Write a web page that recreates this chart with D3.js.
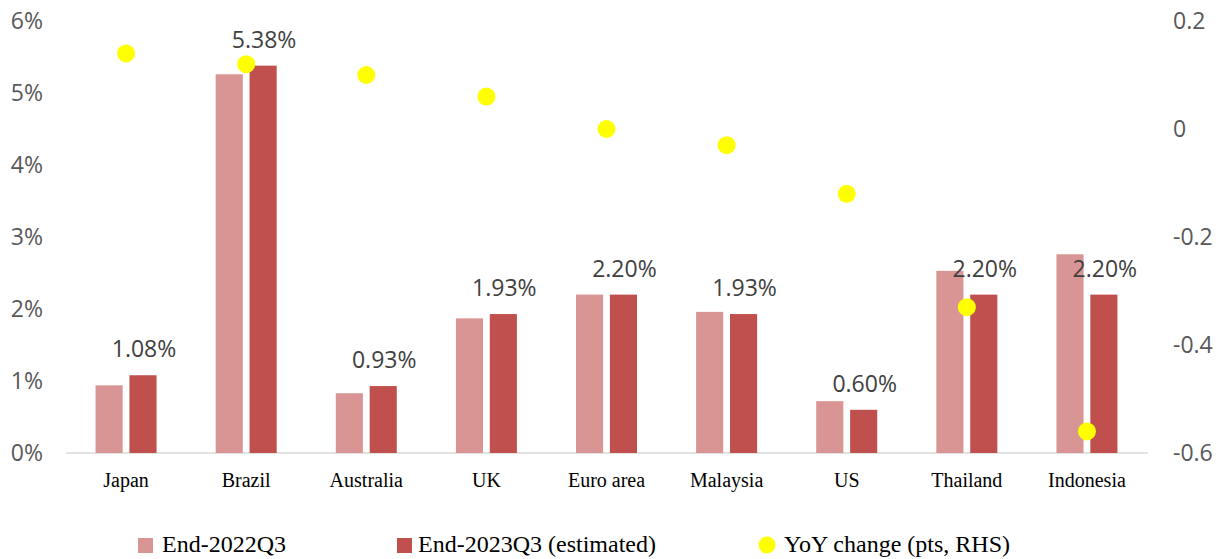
<!DOCTYPE html>
<html>
<head>
<meta charset="utf-8">
<script src="https://cdn.jsdelivr.net/npm/d3@7/dist/d3.min.js"></script>
<style>
  html, body { margin: 0; padding: 0; background: #ffffff; }
  svg { display: block; }
</style>
</head>
<body>
<svg id="chart" width="1224" height="559"></svg>
<script>
// Policy-style rate levels by economy, two snapshots plus year-on-year change
const categories = ["Japan", "Brazil", "Australia", "UK", "Euro area", "Malaysia", "US", "Thailand", "Indonesia"];
const end2022Q3 = [0.94, 5.26, 0.83, 1.87, 2.20, 1.96, 0.72, 2.53, 2.76];
const end2023Q3 = [1.08, 5.38, 0.93, 1.93, 2.20, 1.93, 0.60, 2.20, 2.20];
const yoyChange = [0.14, 0.12, 0.10, 0.06, 0.00, -0.03, -0.12, -0.33, -0.56];
const leftTicks = [0, 1, 2, 3, 4, 5, 6];
const rightTicks = [0.2, 0, -0.2, -0.4, -0.6];
const seriesNames = ["End-2022Q3", "End-2023Q3 (estimated)", "YoY change (pts, RHS)"];

const colors = { light: "#D99594", dark: "#C0504D", dot: "#FFFF00" };

const svg = d3.select("#chart");

const x0 = d3.scaleBand().domain(categories).range([66, 1147]).padding(0);
const bw = x0.bandwidth();
const x1 = d3.scaleBand().domain(["a", "b"])
  .range([bw / 2 - 30.5, bw / 2 + 30.5]).paddingInner(0.2).paddingOuter(0);

const yL = d3.scaleLinear().domain([0, 6]).range([453, 21]);
const yR = d3.scaleLinear().domain([-0.6, 0.2]).range([453, 21]);

// Left axis (percent)
const gL = svg.append("g").attr("transform", "translate(43,0)")
  .call(d3.axisLeft(yL).tickValues(leftTicks).tickFormat(d => d + "%").tickSize(0).tickPadding(0));
gL.select(".domain").remove();
gL.selectAll("text").attr("font-family", "'Open Sans', sans-serif").attr("font-size", 23).attr("fill", "#595959");

// Right axis (points)
const gR = svg.append("g").attr("transform", "translate(1173,0)")
  .call(d3.axisRight(yR).tickValues(rightTicks).tickFormat(d => d === 0 ? "0" : String(d)).tickSize(0).tickPadding(0));
gR.select(".domain").remove();
gR.selectAll("text").attr("font-family", "'Open Sans', sans-serif").attr("font-size", 23).attr("fill", "#595959");

// Category axis
const gX = svg.append("g").attr("transform", "translate(0,453)")
  .call(d3.axisBottom(x0).tickSize(0).tickPadding(20));
gX.select(".domain").remove();
gX.selectAll("text").attr("font-family", "'Liberation Serif', 'Times New Roman', serif").attr("font-size", 20).attr("fill", "#000");

// Baseline
svg.append("line")
  .attr("x1", 66).attr("x2", 1148)
  .attr("y1", yL(0)).attr("y2", yL(0))
  .attr("stroke", "#D9D9D9").attr("stroke-width", 1.5);

// Bars
const groups = svg.append("g").selectAll("g")
  .data(categories)
  .join("g")
  .attr("transform", d => `translate(${x0(d)},0)`);

groups.append("rect")
  .attr("x", x1("a")).attr("width", x1.bandwidth())
  .attr("y", (d, i) => yL(end2022Q3[i]))
  .attr("height", (d, i) => yL(0) - yL(end2022Q3[i]))
  .attr("fill", colors.light);

groups.append("rect")
  .attr("x", x1("b")).attr("width", x1.bandwidth())
  .attr("y", (d, i) => yL(end2023Q3[i]))
  .attr("height", (d, i) => yL(0) - yL(end2023Q3[i]))
  .attr("fill", colors.dark);

// Value labels over the 2023Q3 bars
groups.append("text")
  .attr("x", x1("b") + x1.bandwidth() / 2 + 1)
  .attr("y", (d, i) => yL(end2023Q3[i]) - 18)
  .attr("text-anchor", "middle")
  .attr("font-family", "'Open Sans', sans-serif")
  .attr("font-size", 23)
  .attr("fill", "#404040")
  .text((d, i) => end2023Q3[i].toFixed(2) + "%");

// YoY change markers (right axis)
svg.append("g").selectAll("circle")
  .data(categories)
  .join("circle")
  .attr("cx", d => x0(d) + bw / 2)
  .attr("cy", (d, i) => yR(yoyChange[i]))
  .attr("r", 9)
  .attr("fill", colors.dot);

// Legend
const legend = svg.append("g")
  .attr("font-family", "'Liberation Serif', 'Times New Roman', serif")
  .attr("font-size", 24)
  .attr("fill", "#000");

legend.append("rect").attr("x", 138).attr("y", 538).attr("width", 15).attr("height", 15).attr("fill", colors.light);
legend.append("text").attr("x", 162).attr("y", 552).text(seriesNames[0]);

legend.append("rect").attr("x", 397).attr("y", 538).attr("width", 15).attr("height", 15).attr("fill", colors.dark);
legend.append("text").attr("x", 418).attr("y", 552).text(seriesNames[1]);

legend.append("circle").attr("cx", 767).attr("cy", 545).attr("r", 8.5).attr("fill", colors.dot);
legend.append("text").attr("x", 784).attr("y", 552).text(seriesNames[2]);
</script>
</body>
</html>
